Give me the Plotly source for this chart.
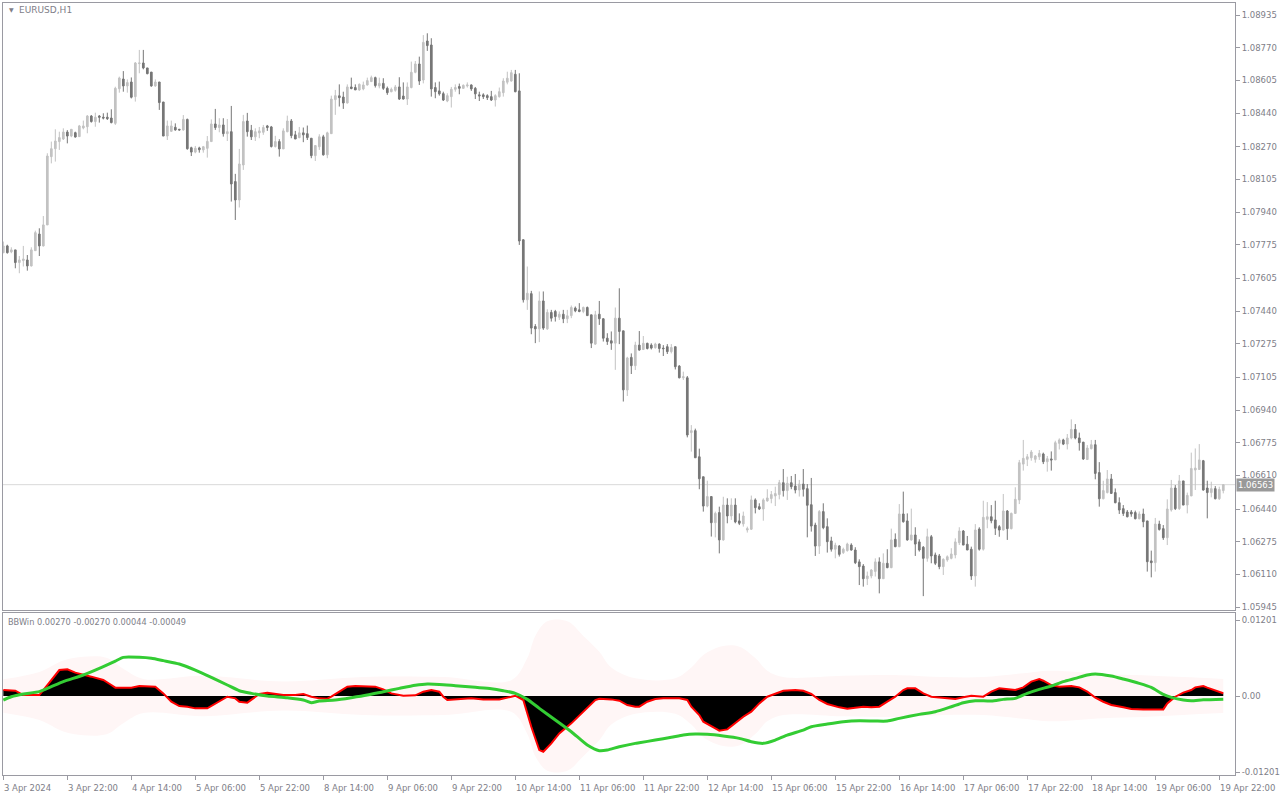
import plotly.graph_objects as go

# ---------------- price data (EURUSD H1), one value per bar ----------------
opens = [1.07735,1.07769,1.07739,1.07749,1.07685,1.07695,1.07698,1.07668,1.07745,1.07829,
1.07769,1.07875,1.08220,1.08260,1.08296,1.08309,1.08344,1.08324,1.08341,1.08321,
1.08365,1.08371,1.08425,1.08397,1.08425,1.08419,1.08419,1.08415,1.08388,1.08563,
1.08612,1.08577,1.08597,1.08523,1.08690,1.08693,1.08668,1.08647,1.08577,1.08597,
1.08496,1.08324,1.08348,1.08368,1.08358,1.08355,1.08408,1.08265,1.08243,1.08264,
1.08254,1.08262,1.08296,1.08385,1.08367,1.08380,1.08336,1.08346,1.08094,1.08001,
1.08178,1.08400,1.08353,1.08320,1.08340,1.08343,1.08375,1.08370,1.08271,1.08296,
1.08259,1.08346,1.08400,1.08330,1.08316,1.08340,1.08336,1.08313,1.08225,1.08270,
1.08320,1.08229,1.08336,1.08508,1.08527,1.08521,1.08491,1.08572,1.08569,1.08557,
1.08562,1.08582,1.08599,1.08619,1.08577,1.08590,1.08565,1.08548,1.08555,1.08572,
1.08526,1.08511,1.08569,1.08646,1.08688,1.08607,1.08804,1.08784,1.08569,1.08552,
1.08538,1.08501,1.08523,1.08560,1.08574,1.08565,1.08577,1.08582,1.08565,1.08532,
1.08532,1.08528,1.08523,1.08506,1.08523,1.08543,1.08596,1.08602,1.08636,1.08552,
1.07800,1.07497,1.07528,1.07362,1.07350,1.07491,1.07350,1.07433,1.07438,1.07409,
1.07424,1.07401,1.07417,1.07455,1.07446,1.07438,1.07458,1.07421,1.07273,1.07424,
1.07401,1.07303,1.07290,1.07278,1.07404,1.07340,1.07041,1.07206,1.07164,1.07268,
1.07246,1.07277,1.07268,1.07255,1.07273,1.07253,1.07260,1.07235,1.07260,1.07162,
1.07103,1.07103,1.06826,1.06836,1.06704,1.06603,1.06455,1.06503,1.06371,1.06422,
1.06284,1.06460,1.06405,1.06460,1.06380,1.06365,1.06334,1.06338,1.06486,1.06452,
1.06440,1.06481,1.06493,1.06506,1.06513,1.06573,1.06533,1.06573,1.06556,1.06536,
1.06566,1.06543,1.06462,1.06359,1.06253,1.06427,1.06351,1.06279,1.06237,1.06253,
1.06220,1.06230,1.06258,1.06233,1.06173,1.06152,1.06088,1.06102,1.06125,1.06173,
1.06088,1.06166,1.06144,1.06287,1.06250,1.06415,1.06380,1.06284,1.06309,1.06274,
1.06247,1.06191,1.06300,1.06208,1.06203,1.06149,1.06183,1.06191,1.06208,1.06270,
1.06329,1.06262,1.06237,1.06102,1.06339,1.06237,1.06388,1.06401,1.06385,1.06351,
1.06334,1.06430,1.06341,1.06418,1.06486,1.06667,1.06691,1.06699,1.06691,1.06704,
1.06718,1.06679,1.06693,1.06688,1.06772,1.06789,1.06768,1.06799,1.06842,1.06799,
1.06778,1.06690,1.06745,1.06765,1.06624,1.06492,1.06523,1.06592,1.06523,1.06472,
1.06442,1.06425,1.06425,1.06422,1.06391,1.06415,1.06380,1.06178,1.06169,1.06364,
1.06341,1.06295,1.06435,1.06546,1.06442,1.06582,1.06460,1.06506,1.06637,1.06640,
1.06684,1.06546,1.06523,1.06543,1.06492,1.06533]
highs = [1.07791,1.07775,1.07762,1.07749,1.07718,1.07769,1.07723,1.07762,1.07846,1.07858,
1.07920,1.08237,1.08296,1.08358,1.08346,1.08363,1.08354,1.08358,1.08346,1.08380,
1.08402,1.08430,1.08430,1.08442,1.08430,1.08439,1.08442,1.08459,1.08573,1.08624,
1.08652,1.08610,1.08620,1.08698,1.08759,1.08759,1.08668,1.08647,1.08610,1.08597,
1.08496,1.08402,1.08402,1.08388,1.08360,1.08430,1.08412,1.08270,1.08274,1.08270,
1.08274,1.08324,1.08408,1.08461,1.08414,1.08414,1.08410,1.08476,1.08133,1.08259,
1.08431,1.08441,1.08380,1.08363,1.08370,1.08380,1.08380,1.08375,1.08325,1.08308,
1.08363,1.08427,1.08410,1.08350,1.08370,1.08367,1.08377,1.08313,1.08276,1.08333,
1.08330,1.08346,1.08528,1.08557,1.08585,1.08548,1.08585,1.08619,1.08585,1.08590,
1.08599,1.08619,1.08629,1.08624,1.08619,1.08616,1.08574,1.08569,1.08582,1.08621,
1.08595,1.08595,1.08700,1.08703,1.08725,1.08834,1.08843,1.08818,1.08595,1.08599,
1.08548,1.08540,1.08572,1.08585,1.08589,1.08585,1.08595,1.08585,1.08572,1.08548,
1.08540,1.08535,1.08552,1.08535,1.08569,1.08616,1.08649,1.08658,1.08658,1.08641,
1.07803,1.07665,1.07542,1.07374,1.07539,1.07539,1.07449,1.07446,1.07446,1.07438,
1.07446,1.07446,1.07468,1.07463,1.07480,1.07463,1.07463,1.07421,1.07441,1.07491,
1.07404,1.07328,1.07337,1.07458,1.07555,1.07340,1.07209,1.07226,1.07285,1.07339,
1.07314,1.07280,1.07277,1.07280,1.07277,1.07268,1.07273,1.07273,1.07260,1.07167,
1.07134,1.07112,1.06864,1.06846,1.06745,1.06603,1.06583,1.06503,1.06427,1.06452,
1.06502,1.06494,1.06494,1.06494,1.06418,1.06427,1.06351,1.06508,1.06494,1.06469,
1.06494,1.06540,1.06531,1.06553,1.06587,1.06642,1.06603,1.06607,1.06617,1.06587,
1.06642,1.06566,1.06597,1.06371,1.06435,1.06469,1.06393,1.06300,1.06270,1.06258,
1.06245,1.06270,1.06267,1.06247,1.06186,1.06162,1.06124,1.06136,1.06191,1.06196,
1.06216,1.06237,1.06341,1.06317,1.06465,1.06528,1.06418,1.06442,1.06348,1.06287,
1.06253,1.06341,1.06309,1.06220,1.06213,1.06191,1.06206,1.06242,1.06292,1.06348,
1.06334,1.06304,1.06250,1.06364,1.06348,1.06482,1.06475,1.06460,1.06482,1.06359,
1.06516,1.06435,1.06422,1.06550,1.06688,1.06789,1.06718,1.06738,1.06713,1.06738,
1.06725,1.06708,1.06731,1.06785,1.06797,1.06795,1.06819,1.06893,1.06869,1.06826,
1.06778,1.06763,1.06789,1.06789,1.06677,1.06583,1.06637,1.06617,1.06544,1.06499,
1.06460,1.06435,1.06435,1.06432,1.06428,1.06442,1.06380,1.06230,1.06395,1.06381,
1.06359,1.06489,1.06587,1.06561,1.06612,1.06582,1.06523,1.06725,1.06746,1.06768,
1.06688,1.06583,1.06578,1.06556,1.06553,1.06566]
lows = [1.07732,1.07730,1.07732,1.07656,1.07631,1.07665,1.07644,1.07665,1.07745,1.07718,
1.07766,1.07875,1.08186,1.08195,1.08254,1.08304,1.08287,1.08318,1.08316,1.08321,
1.08358,1.08338,1.08392,1.08371,1.08392,1.08408,1.08405,1.08388,1.08380,1.08543,
1.08548,1.08543,1.08514,1.08498,1.08641,1.08661,1.08636,1.08573,1.08573,1.08456,
1.08324,1.08304,1.08346,1.08351,1.08351,1.08351,1.08255,1.08223,1.08237,1.08240,
1.08240,1.08215,1.08296,1.08355,1.08343,1.08321,1.08299,1.07993,1.07900,1.07963,
1.08153,1.08321,1.08304,1.08299,1.08313,1.08330,1.08350,1.08266,1.08266,1.08220,
1.08259,1.08343,1.08313,1.08309,1.08313,1.08293,1.08304,1.08212,1.08198,1.08254,
1.08225,1.08212,1.08336,1.08431,1.08473,1.08461,1.08488,1.08560,1.08557,1.08552,
1.08555,1.08579,1.08599,1.08569,1.08565,1.08557,1.08532,1.08545,1.08548,1.08506,
1.08508,1.08481,1.08565,1.08641,1.08582,1.08590,1.08754,1.08523,1.08515,1.08528,
1.08501,1.08495,1.08468,1.08548,1.08535,1.08562,1.08569,1.08552,1.08511,1.08501,
1.08511,1.08506,1.08501,1.08473,1.08518,1.08523,1.08585,1.08599,1.08545,1.07774,
1.07483,1.07446,1.07323,1.07278,1.07283,1.07345,1.07345,1.07387,1.07387,1.07395,
1.07379,1.07379,1.07404,1.07434,1.07434,1.07429,1.07417,1.07253,1.07269,1.07370,
1.07286,1.07269,1.07244,1.07143,1.07273,1.06983,1.07011,1.07122,1.07142,1.07240,
1.07243,1.07246,1.07246,1.07250,1.07230,1.07213,1.07223,1.07226,1.07145,1.07100,
1.07092,1.06802,1.06730,1.06699,1.06540,1.06427,1.06449,1.06301,1.06297,1.06216,
1.06280,1.06368,1.06385,1.06368,1.06359,1.06351,1.06321,1.06334,1.06418,1.06435,
1.06381,1.06477,1.06469,1.06455,1.06489,1.06503,1.06486,1.06540,1.06519,1.06503,
1.06503,1.06297,1.06326,1.06203,1.06213,1.06338,1.06220,1.06225,1.06191,1.06200,
1.06213,1.06225,1.06230,1.06162,1.06056,1.06048,1.06056,1.06090,1.06099,1.06014,
1.06088,1.06141,1.06141,1.06247,1.06247,1.06371,1.06280,1.06280,1.06203,1.06225,
1.06000,1.06174,1.06166,1.06157,1.06136,1.06107,1.06174,1.06186,1.06191,1.06258,
1.06258,1.06233,1.06082,1.06048,1.06230,1.06230,1.06343,1.06368,1.06309,1.06300,
1.06331,1.06284,1.06337,1.06415,1.06465,1.06634,1.06657,1.06684,1.06674,1.06688,
1.06667,1.06629,1.06634,1.06688,1.06741,1.06763,1.06741,1.06792,1.06792,1.06735,
1.06688,1.06688,1.06741,1.06590,1.06452,1.06489,1.06519,1.06516,1.06469,1.06415,
1.06405,1.06398,1.06401,1.06388,1.06388,1.06348,1.06124,1.06095,1.06124,1.06331,
1.06284,1.06258,1.06427,1.06435,1.06435,1.06460,1.06418,1.06506,1.06536,1.06637,
1.06533,1.06393,1.06499,1.06489,1.06486,1.06519]
closes = [1.07769,1.07735,1.07749,1.07685,1.07698,1.07703,1.07668,1.07749,1.07836,1.07769,
1.07875,1.08223,1.08260,1.08299,1.08316,1.08344,1.08324,1.08358,1.08319,1.08375,
1.08375,1.08425,1.08397,1.08419,1.08419,1.08415,1.08412,1.08392,1.08565,1.08617,
1.08577,1.08594,1.08520,1.08693,1.08693,1.08668,1.08639,1.08577,1.08597,1.08493,
1.08324,1.08375,1.08375,1.08355,1.08355,1.08408,1.08260,1.08243,1.08262,1.08255,
1.08270,1.08297,1.08385,1.08367,1.08380,1.08336,1.08346,1.08082,1.08001,1.08183,
1.08397,1.08346,1.08320,1.08346,1.08350,1.08367,1.08367,1.08271,1.08296,1.08259,
1.08350,1.08400,1.08326,1.08309,1.08340,1.08330,1.08316,1.08225,1.08276,1.08320,
1.08229,1.08340,1.08511,1.08528,1.08518,1.08491,1.08572,1.08564,1.08557,1.08585,
1.08582,1.08604,1.08619,1.08579,1.08590,1.08565,1.08543,1.08560,1.08572,1.08511,
1.08511,1.08572,1.08646,1.08688,1.08602,1.08797,1.08781,1.08562,1.08548,1.08537,
1.08506,1.08528,1.08560,1.08569,1.08565,1.08580,1.08582,1.08562,1.08537,1.08527,
1.08523,1.08518,1.08506,1.08528,1.08548,1.08602,1.08616,1.08644,1.08548,1.07794,
1.07497,1.07530,1.07354,1.07350,1.07491,1.07354,1.07433,1.07404,1.07412,1.07424,
1.07401,1.07416,1.07458,1.07441,1.07438,1.07458,1.07417,1.07278,1.07421,1.07401,
1.07303,1.07286,1.07278,1.07404,1.07337,1.07042,1.07203,1.07164,1.07268,1.07243,
1.07277,1.07251,1.07253,1.07273,1.07251,1.07250,1.07235,1.07256,1.07159,1.07103,
1.07108,1.06814,1.06836,1.06699,1.06593,1.06455,1.06503,1.06371,1.06418,1.06284,
1.06460,1.06405,1.06460,1.06375,1.06368,1.06405,1.06341,1.06486,1.06447,1.06440,
1.06486,1.06496,1.06513,1.06518,1.06573,1.06533,1.06570,1.06553,1.06536,1.06566,
1.06540,1.06459,1.06354,1.06253,1.06427,1.06346,1.06275,1.06237,1.06257,1.06211,
1.06237,1.06263,1.06233,1.06169,1.06149,1.06088,1.06102,1.06132,1.06173,1.06088,
1.06166,1.06144,1.06284,1.06250,1.06415,1.06376,1.06284,1.06309,1.06263,1.06233,
1.06191,1.06300,1.06203,1.06166,1.06149,1.06186,1.06199,1.06213,1.06274,1.06329,
1.06258,1.06233,1.06102,1.06334,1.06237,1.06398,1.06401,1.06381,1.06343,1.06334,
1.06430,1.06341,1.06418,1.06489,1.06674,1.06696,1.06704,1.06728,1.06708,1.06721,
1.06679,1.06694,1.06688,1.06775,1.06789,1.06768,1.06799,1.06842,1.06799,1.06775,
1.06693,1.06748,1.06765,1.06620,1.06492,1.06533,1.06592,1.06519,1.06472,1.06435,
1.06418,1.06401,1.06415,1.06391,1.06415,1.06376,1.06174,1.06169,1.06364,1.06337,
1.06295,1.06440,1.06546,1.06442,1.06582,1.06460,1.06509,1.06645,1.06647,1.06688,
1.06536,1.06523,1.06543,1.06492,1.06539,1.06563]
bars = list(range(len(closes)))
last_price = 1.06563

# time axis labels (every 16 bars)
time_tick_bars = [0,16,32,48,64,80,96,112,128,144,160,176,192,208,224,240,256,272,288,304]
time_tick_labels = ["3 Apr 2024","3 Apr 22:00","4 Apr 14:00","5 Apr 06:00","5 Apr 22:00",
"8 Apr 14:00","9 Apr 06:00","9 Apr 22:00","10 Apr 14:00","11 Apr 06:00","11 Apr 22:00",
"12 Apr 14:00","15 Apr 06:00","15 Apr 22:00","16 Apr 14:00","17 Apr 06:00","17 Apr 22:00",
"18 Apr 14:00","19 Apr 06:00","19 Apr 22:00"]

price_ticks = [1.08935,1.08770,1.08605,1.08440,1.08270,1.08105,1.07940,1.07775,1.07605,
1.07440,1.07275,1.07105,1.06940,1.06775,1.06610,1.06440,1.06275,1.06110,1.05945]
price_tick_labels = ["%.5f" % v for v in price_ticks]

# ---------------- BBWin indicator ----------------
red_bars = [0,3,5,9,11,14,16,18,22,25,27,28,32,34,38,40,42,44,46,48,51,53,56,58,59,61,62,64,66,
70,73,75,77,79,81,82,84,86,88,93,95,97,100,103,105,107,109,110,111,113,117,120,124,127,128,
130,132,134,135,137,139,142,145,148,149,152,154,156,158,159,161,163,165,167,169,171,172,174,
175,178,179,181,183,185,187,189,191,193,195,198,200,202,204,206,209,211,213,215,217,219,221,
223,225,226,228,230,232,235,238,240,242,245,247,249,251,253,255,257,259,260,262,264,267,269,
271,273,275,277,280,282,285,288,290,291,293,295,297,298,300,301,303,304,305]
red_vals = [0.00095,0.00084,0.00016,0.00016,0.00174,0.00411,0.00422,0.00369,0.00306,0.00253,
0.00174,0.00132,0.00132,0.00158,0.00148,0.00042,-0.00090,-0.00158,-0.00169,-0.00195,-0.00195,
-0.00116,-0.00011,-0.00037,-0.00090,-0.00105,-0.00063,0.00032,0.00053,0.00016,0.00016,0.00032,
-0.00011,-0.00037,-0.00042,-0.00011,0.00069,0.00148,0.00158,0.00148,0.00105,0.00042,0.00005,
0.00011,0.00069,0.00095,0.00069,-0.00011,-0.00063,-0.00053,-0.00037,-0.00053,-0.00053,-0.00011,
0.00005,-0.00063,-0.00485,-0.00854,-0.00880,-0.00748,-0.00590,-0.00432,-0.00248,-0.00063,
-0.00042,-0.00053,-0.00074,-0.00142,-0.00169,-0.00169,-0.00090,-0.00047,-0.00037,-0.00032,
-0.00037,-0.00063,-0.00169,-0.00300,-0.00406,-0.00511,-0.00548,-0.00527,-0.00432,-0.00327,
-0.00248,-0.00116,-0.00011,0.00042,0.00084,0.00095,0.00084,0.00032,-0.00063,-0.00126,-0.00179,
-0.00200,-0.00179,-0.00169,-0.00179,-0.00169,-0.00090,-0.00011,0.00095,0.00121,0.00121,0.00042,
-0.00011,-0.00032,-0.00047,-0.00021,0.00005,-0.00011,0.00069,0.00121,0.00105,0.00095,0.00137,
0.00227,0.00269,0.00242,0.00174,0.00148,0.00158,0.00137,0.00069,-0.00026,-0.00090,-0.00142,
-0.00179,-0.00206,-0.00211,-0.00211,-0.00211,-0.00116,-0.00011,0.00053,0.00095,0.00137,0.00158,
0.00132,0.00084,0.00060,0.00044]

green_bars = [0,2,5,9,12,15,20,24,28,30,34,37,40,44,48,52,56,59,62,66,71,75,77,79,83,87,91,95,
99,103,106,109,113,118,122,125,128,131,134,138,142,146,149,151,154,158,159,163,167,170,173,
176,180,184,187,190,193,196,200,202,206,210,214,218,221,224,229,233,237,240,243,247,250,253,
256,259,262,265,268,271,273,277,280,284,287,290,292,295,297,300,305]
green_vals = [-0.00063,-0.00011,0.00032,0.00069,0.00148,0.00227,0.00332,0.00437,0.00553,0.00611,
0.00611,0.00596,0.00559,0.00506,0.00411,0.00295,0.00174,0.00084,0.00042,0.00000,-0.00026,
-0.00063,-0.00105,-0.00079,-0.00063,-0.00026,0.00016,0.00069,0.00121,0.00169,0.00190,0.00184,
0.00163,0.00137,0.00116,0.00084,0.00042,-0.00053,-0.00195,-0.00379,-0.00564,-0.00775,-0.00864,
-0.00854,-0.00801,-0.00748,-0.00738,-0.00696,-0.00653,-0.00617,-0.00601,-0.00606,-0.00632,
-0.00669,-0.00722,-0.00748,-0.00696,-0.00617,-0.00538,-0.00485,-0.00443,-0.00406,-0.00390,
-0.00395,-0.00395,-0.00353,-0.00290,-0.00248,-0.00169,-0.00105,-0.00074,-0.00079,-0.00053,
-0.00037,0.00042,0.00105,0.00158,0.00227,0.00279,0.00332,0.00348,0.00316,0.00269,0.00200,
0.00137,0.00026,-0.00021,-0.00063,-0.00074,-0.00060,-0.00049]

band_bars = [0,9,15,20,26,30,35,50,70,90,110,127,131,133,136,141,145,149,152,158,168,172,175,
180,184,188,191,195,210,224,235,245,255,262,275,285,295,305]
band_vals = [0.00264,0.00380,0.00560,0.00620,0.00600,0.00430,0.00270,0.00320,0.00230,0.00300,
0.00300,0.00250,0.00600,0.00950,0.01180,0.01180,0.00950,0.00700,0.00450,0.00280,0.00280,
0.00450,0.00650,0.00790,0.00780,0.00600,0.00400,0.00300,0.00320,0.00330,0.00300,0.00300,
0.00360,0.00400,0.00350,0.00330,0.00300,0.00270]

ind_ticks = [0.01201, 0.0, -0.01201]
ind_tick_labels = ["0.01201", "0.00", "-0.01201"]
ind_title = "BBWin 0.00270 -0.00270 0.00044 -0.00049"

# ---------------- figure ----------------
W, H = 1280, 800
FONT = "DejaVu Sans"
TXT = "#7E7E88"
FRAME = "#9A9AA2"

x0p, x1p = 3 / W, 1235 / W
top_dom = [(H - 610) / H, (H - 3) / H]
bot_dom = [(H - 775) / H, (H - 613) / H]

fig = go.Figure()

fig.add_trace(go.Candlestick(
    x=bars, open=opens, high=highs, low=lows, close=closes,
    increasing=dict(line=dict(color="#C2C2C2", width=1), fillcolor="#C2C2C2"),
    decreasing=dict(line=dict(color="#767676", width=1), fillcolor="#767676"),
    whiskerwidth=0, showlegend=False, hoverinfo="skip", xaxis="x", yaxis="y"))

fig.add_trace(go.Scatter(x=band_bars, y=band_vals, mode="lines", line=dict(width=0, shape="spline"),
                         showlegend=False, hoverinfo="skip", xaxis="x2", yaxis="y2"))
fig.add_trace(go.Scatter(x=band_bars, y=[-v for v in band_vals], mode="lines",
                         line=dict(width=0, shape="spline"), fill="tonexty",
                         fillcolor="rgb(255,246,246)", showlegend=False, hoverinfo="skip",
                         xaxis="x2", yaxis="y2"))
fig.add_trace(go.Scatter(x=red_bars, y=red_vals, mode="lines", line=dict(color="#FF0000", width=2),
                         fill="tozeroy", fillcolor="#000000", showlegend=False, hoverinfo="skip",
                         xaxis="x2", yaxis="y2"))
fig.add_trace(go.Scatter(x=green_bars, y=green_vals, mode="lines",
                         line=dict(color="#33CC33", width=3, shape="spline", smoothing=0.6),
                         showlegend=False, hoverinfo="skip", xaxis="x2", yaxis="y2"))

xr = [-0.08, 307.93]
axfont = dict(family=FONT, size=8.5, color=TXT)
fig.update_layout(
    width=W, height=H, margin=dict(l=0, r=0, t=0, b=0, autoexpand=False),
    paper_bgcolor="white", plot_bgcolor="white", boxgap=0.4,
    xaxis=dict(domain=[x0p, x1p], range=xr, anchor="y", showgrid=False, zeroline=False,
               showticklabels=False, ticks="", showline=True, mirror=True, linecolor=FRAME,
               linewidth=1, rangeslider=dict(visible=False), fixedrange=True),
    xaxis2=dict(domain=[x0p, x1p], range=xr, anchor="y2", showgrid=False, zeroline=False,
                tickmode="array", tickvals=time_tick_bars, ticks="outside", ticklen=4,
                tickcolor=FRAME, showticklabels=False, showline=True, mirror=True,
                linecolor=FRAME, linewidth=1),
    yaxis=dict(domain=top_dom, range=[1.05930, 1.08996], anchor="x", side="right",
               showgrid=False, zeroline=False, tickmode="array", tickvals=price_ticks,
               ticktext=price_tick_labels, ticks="outside", ticklen=4, tickcolor=FRAME,
               tickfont=axfont, showline=True, mirror=True, linecolor=FRAME, linewidth=1),
    yaxis2=dict(domain=bot_dom, range=[-0.01248, 0.01312], anchor="x2", side="right",
                showgrid=False, zeroline=False, tickmode="array", tickvals=ind_ticks,
                ticktext=ind_tick_labels, ticks="outside", ticklen=4, tickcolor=FRAME,
                tickfont=axfont, showline=True, mirror=True, linecolor=FRAME, linewidth=1),
)

# current price line and label
fig.add_shape(type="line", xref="paper", yref="y", x0=x0p, x1=x1p, y0=last_price, y1=last_price,
              line=dict(color="#D9D9D9", width=1), layer="below")
fig.add_annotation(xref="paper", yref="y", x=1236 / W, y=last_price, xanchor="left",
                   yanchor="middle", text="%.5f" % last_price, showarrow=False,
                   bgcolor="#999999", borderpad=1,
                   font=dict(family=FONT, size=8.5, color="white"))

# time labels, left-aligned at tick like MT4
for b, lab in zip(time_tick_bars, time_tick_labels):
    fig.add_annotation(xref="x2", yref="paper", x=b, y=(H - 788) / H, xanchor="left",
                       yanchor="middle", xshift=-1, text=lab, showarrow=False, font=axfont)

# panel titles
fig.add_annotation(xref="paper", yref="paper", x=7 / W, y=(H - 10) / H, xanchor="left",
                   yanchor="middle", text="▼", showarrow=False,
                   font=dict(family=FONT, size=6, color=TXT))
fig.add_annotation(xref="paper", yref="paper", x=17 / W, y=(H - 10) / H, xanchor="left",
                   yanchor="middle", text="EURUSD,H1", showarrow=False,
                   font=dict(family=FONT, size=9, color=TXT))
fig.add_annotation(xref="paper", yref="paper", x=6 / W, y=(H - 622) / H, xanchor="left",
                   yanchor="middle", text=ind_title, showarrow=False,
                   font=dict(family=FONT, size=8.2, color=TXT))

fig.write_html("out.html", config={"displayModeBar": False, "staticPlot": True},
               post_script="document.body.style.margin='0px';document.body.style.overflow='hidden';")
